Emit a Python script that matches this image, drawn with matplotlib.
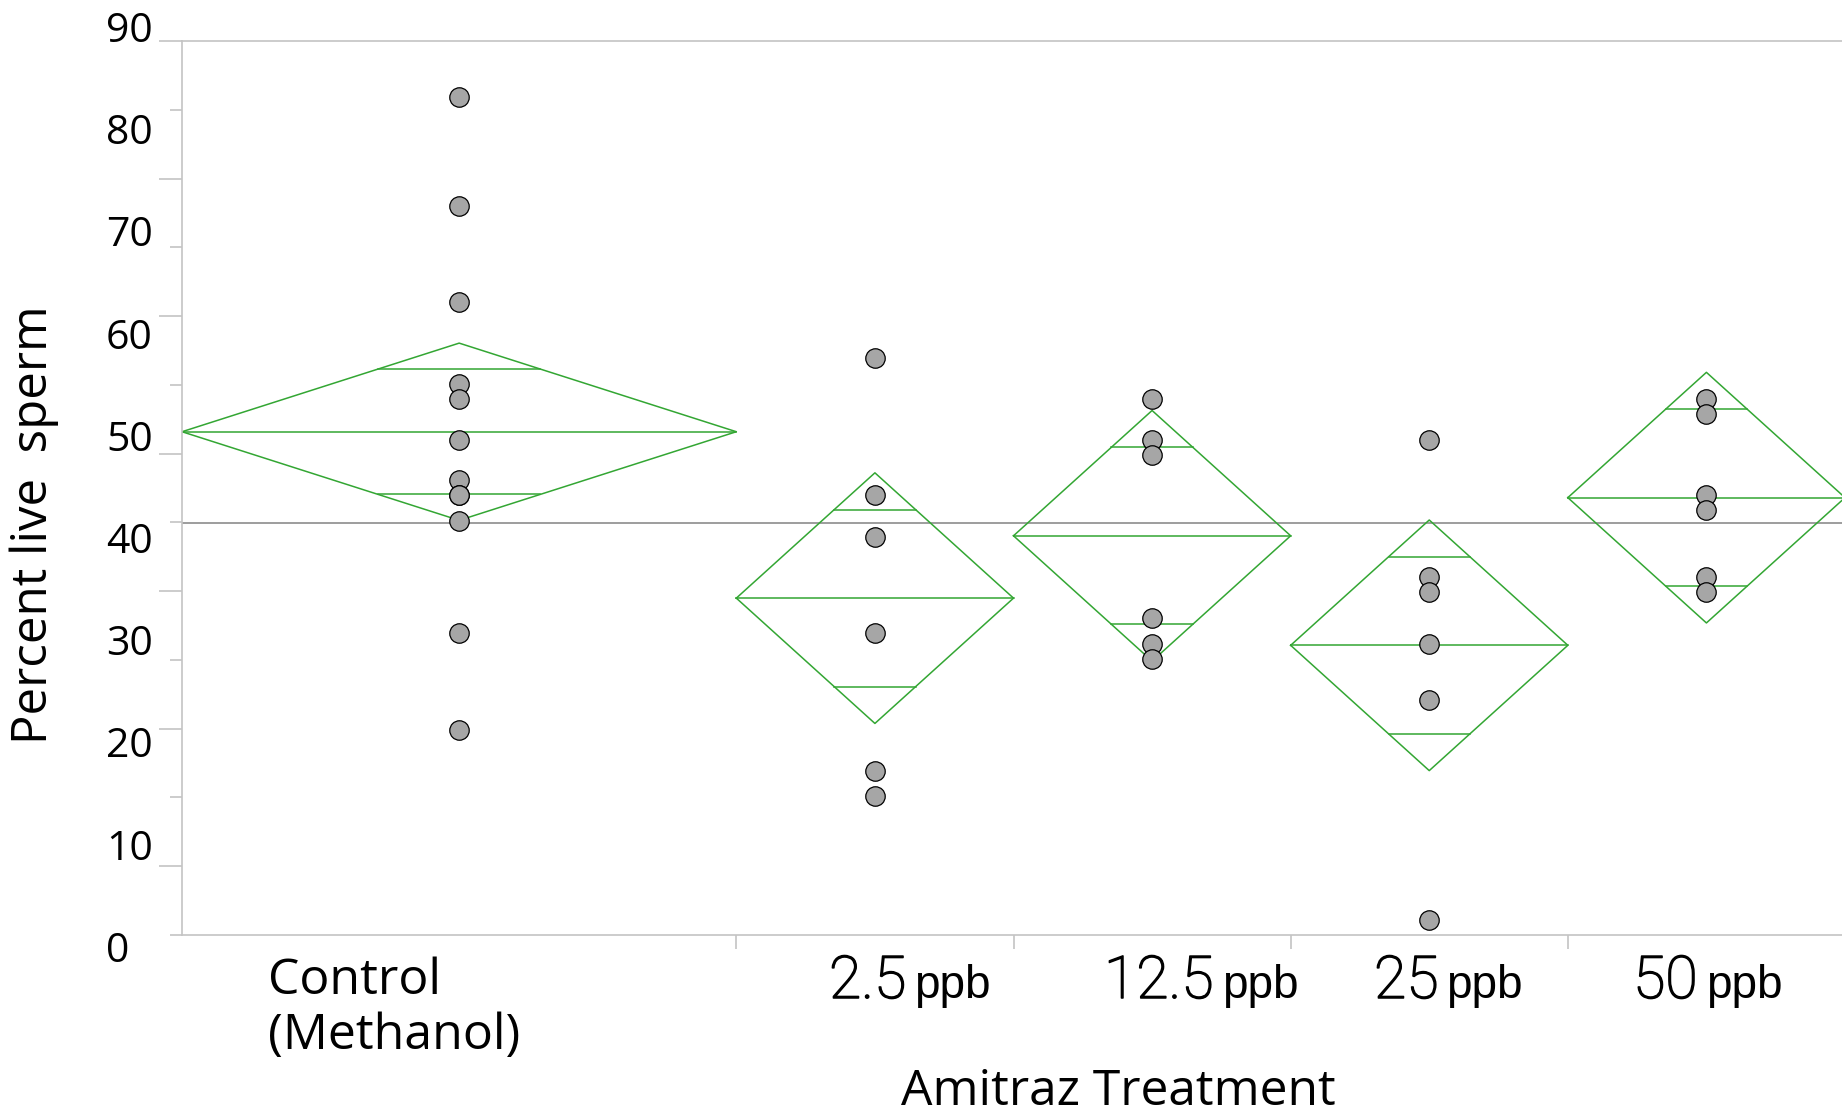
import numpy as np
import matplotlib.pyplot as plt
import matplotlib.patheffects as pe

# Percent live sperm, one value per sample, by Amitraz treatment group
control = [83.6, 73.0, 63.6, 55.5, 54.1, 50.1, 46.1, 44.7, 44.7, 42.1, 31.2, 21.7]
ppb_2_5 = [58.1, 44.7, 40.6, 31.2, 17.7, 15.2]
ppb_12_5 = [54.1, 50.1, 48.6, 32.6, 30.1, 28.6]
ppb_25 = [50.1, 36.7, 35.2, 30.1, 24.6, 3.1]
ppb_50 = [54.1, 52.6, 44.7, 43.2, 36.7, 35.2]
groups = [control, ppb_2_5, ppb_12_5, ppb_25, ppb_50]

dose_labels = ["2.5", "12.5", "25", "50"]
y_labels = [0, 10, 20, 30, 40, 50, 60, 70, 80, 90]

T_CRIT = 2.0395  # t(0.975, df = N - k = 31)
GREEN = "#33a633"
GRID = "#c4c4c4"

# group widths are proportional to sample size
n = np.array([len(g) for g in groups])
edges = np.concatenate([[0], np.cumsum(n)])
centers = (edges[:-1] + edges[1:]) / 2
means = np.array([np.mean(g) for g in groups])
grand_mean = np.mean(np.concatenate(groups))
sse = sum(((np.array(g) - m) ** 2).sum() for g, m in zip(groups, means))
s_pooled = np.sqrt(sse / (n.sum() - len(groups)))
half = T_CRIT * s_pooled / np.sqrt(n)

W, H = 1842, 1114
fig = plt.figure(figsize=(W / 100, H / 100), dpi=100)
ax = fig.add_axes([182 / W, 179 / H, 1 - 182 / W, 894 / H])
ax.set_xlim(0, n.sum() * 1660 / 1663)
ax.set_ylim(1.62, 89.1)

# means diamonds
for x0, x1, xc, m, h in zip(edges[:-1], edges[1:], centers, means, half):
    ax.plot([x0, xc, x1, xc, x0], [m, m + h, m, m - h, m], color=GREEN, lw=1.1, zorder=2)
    ax.plot([x0, x1], [m, m], color=GREEN, lw=1.1, zorder=2)
    d = h / np.sqrt(2)
    hw = (x1 - x0) / 2 * (1 - 1 / np.sqrt(2))
    for yy in (m + d, m - d):
        ax.plot([xc - hw, xc + hw], [yy, yy], color=GREEN, lw=1.1, zorder=2)

ax.axhline(grand_mean, color="#8c8c8c", lw=1.2, zorder=1)

for xc, g in zip(centers, groups):
    ax.plot([xc] * len(g), g, "o", ms=14, mfc="#a6a6a6", mec="black",
            mew=0.9, zorder=3, linestyle="none")

# frame and ticks
for side in ("left", "top", "bottom"):
    ax.spines[side].set_color(GRID)
    ax.spines[side].set_linewidth(1.2)
ax.spines["right"].set_visible(False)

yt = np.linspace(1.62, 89.1, 14)
ax.set_yticks(yt[1::2])
ax.set_yticks(yt[0::2], minor=True)
ax.tick_params(axis="y", which="major", length=16.5, width=1.2, color=GRID, labelleft=False)
ax.tick_params(axis="y", which="minor", length=8.5, width=1.2, color=GRID, labelleft=False)
ax.set_xticks(edges[1:-1])
ax.tick_params(axis="x", which="major", length=10, width=1.2, color=GRID, labelbottom=False)

ytrans = ax.get_yaxis_transform()
for v in y_labels:
    ax.text(-0.0458, v, str(v), transform=ytrans, ha="left", va="center",
            fontsize=29.5, family="Open Sans", clip_on=False)

fig.text(34 / W, 1 - 525 / H, "Percent live  sperm", rotation=90, ha="center",
         va="center", fontsize=35.5, family="Open Sans")
fig.text(1118 / W, 9 / H, "Amitraz Treatment", ha="center", va="baseline",
         fontsize=35.8, family="Open Sans")

# category labels
fig.text(268 / W, 1 - 994 / H, "Control", ha="left", va="baseline",
         fontsize=36, family="Open Sans")
fig.text(268 / W, 1 - 1049 / H, "(Methanol)", ha="left", va="baseline",
         fontsize=36, family="Open Sans")

num_left = [829, 1104, 1374, 1633]
num_texts = []
for lab, xl in zip(dose_labels, num_left):
    t = fig.text(xl / W, 1 - 998 / H, lab, ha="left", va="baseline",
                 fontsize=42.5, family="Roboto", fontweight="light",
                 path_effects=[pe.withStroke(linewidth=1.1, foreground="black")])
    num_texts.append(t)

fig.canvas.draw()
for t in num_texts:
    bb = t.get_window_extent()
    fig.text((bb.x1 + 8) / W, 1 - 998 / H, "ppb", ha="left", va="baseline",
             fontsize=33, family="Liberation Sans")

fig.savefig("out.png", dpi=100)
